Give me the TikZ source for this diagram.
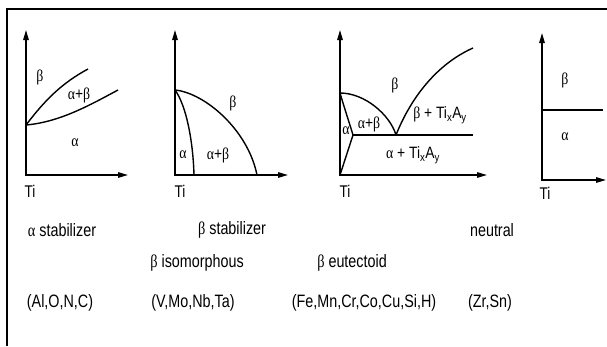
\documentclass[tikz,border=0pt]{standalone}
\usepackage{fontspec}
\setmainfont{Liberation Sans}
\newfontfamily\grk{Liberation Serif}
\usetikzlibrary{arrows.meta, positioning}
\newcommand{\al}{{\grk α}}
\newcommand{\be}{{\grk β}}

\begin{document}
\begin{tikzpicture}[
        x=1bp, y=-1bp,
        axis/.style={{Triangle[length=10bp,width=5.5bp]}-{Triangle[length=10bp,width=5.5bp]}, line width=1.4bp},
        phase/.style={line width=1.4bp},
        region/.style={font=\fontsize{16.5}{16.5}\selectfont, inner sep=0pt, xscale=0.84},
        tilbl/.style={font=\fontsize{17}{17}\selectfont, inner sep=0pt, xscale=0.8},
        caption/.style={font=\fontsize{18}{18}\selectfont, inner sep=0pt, xscale=0.8}
    ]
        \useasboundingbox (0,0) rectangle (607,346);
        \draw[line width=2bp] (7,346) -- (7,9) -- (607,9);

        % alpha stabilizer
        \coordinate (topA) at (26,30);
        \coordinate (oA) at (26,175);
        \coordinate (endA) at (128,175);
        \coordinate (mA) at (26,125);
        \coordinate (upA) at (88,69);
        \coordinate (loA) at (118,90);
        \draw[axis] (topA) -- (oA) -- (endA);
        \draw[phase] (mA) .. controls (45,100) and (62,83) .. (upA);
        \draw[phase] (mA) .. controls (60,122) and (90,105) .. (loA);
        \node[region] (betaA) at (40,77) {\be};
        \node[region] (abA) at (79,95) {\al+\be};
        \node[region] (alphaA) at (75,143) {\al};
        \node[tilbl] (tiA) at (30,191) {Ti};

        % beta isomorphous
        \coordinate (topB) at (175,30);
        \coordinate (oB) at (175,175);
        \coordinate (endB) at (288,175);
        \coordinate (mB) at (175,90);
        \coordinate (outB) at (257,175);
        \coordinate (inB) at (194,175);
        \draw[axis] (topB) -- (oB) -- (endB);
        \draw[phase] (mB) .. controls (205,93) and (248,130) .. (outB);
        \draw[phase] (mB) .. controls (186,105) and (193,140) .. (inB);
        \node[region] (betaB) at (233,103) {\be};
        \node[region] (alphaB) at (183,155) {\al};
        \node[region] (abB) at (218,155) {\al+\be};
        \node[tilbl] (tiB) at (180,191) {Ti};

        % beta eutectoid
        \coordinate (topC) at (340,30);
        \coordinate (oC) at (340,175);
        \coordinate (endC) at (487,175);
        \coordinate (mC) at (340,93);
        \coordinate (kC) at (353,135);
        \coordinate (eC) at (396,135);
        \coordinate (hC) at (473,135);
        \coordinate (rC) at (473,48);
        \draw[axis] (topC) -- (oC) -- (endC);
        \draw[phase] (mC) .. controls (365,93) and (390,115) .. (eC);
        \draw[phase] (mC) .. controls (345,110) and (350,125) .. (kC) -- (oC);
        \draw[phase] (kC) -- (hC);
        \draw[phase] (eC) .. controls (410,100) and (435,65) .. (rC);
        \node[region] (betaC) at (395,85) {\be};
        \node[region] (btC) at (440,115) {\be{} + Ti\textsubscript{x}A\textsubscript{y}};
        \node[region] (abC) at (369,124) {\al+\be};
        \node[region] (alphaC) at (346,131) {\al};
        \node[region] (atC) at (413,155) {\al{} + Ti\textsubscript{x}A\textsubscript{y}};
        \node[tilbl] (tiC) at (345,191) {Ti};

        % neutral
        \coordinate (topD) at (542,33);
        \coordinate (oD) at (542,180);
        \coordinate (endD) at (606,180);
        \coordinate (mD) at (542,110);
        \coordinate (rD) at (603,110);
        \draw[axis] (topD) -- (oD) -- (endD);
        \draw[phase] (mD) -- (rD);
        \node[region] (betaD) at (565,80) {\be};
        \node[region] (alphaD) at (565,137) {\al};
        \node[tilbl] (tiD) at (545,193) {Ti};

        % captions
        \node[caption] (stabA) at (62,230) {\al{} stabilizer};
        \node[caption] (stabB) at (232,230) {\be{} stabilizer};
        \node[caption] (neut) at (492,230) {neutral};
        \node[caption] (iso) at (197,263) {\be{} isomorphous};
        \node[caption] (eut) at (352,263) {\be{} eutectoid};
        \node[caption] (elA) at (60,303) {(Al,O,N,C)};
        \node[caption] (elB) at (193,303) {(V,Mo,Nb,Ta)};
        \node[caption] (elC) at (364,303) {(Fe,Mn,Cr,Co,Cu,Si,H)};
        \node[caption] (elD) at (490,303) {(Zr,Sn)};
    \end{tikzpicture}
\end{document}
